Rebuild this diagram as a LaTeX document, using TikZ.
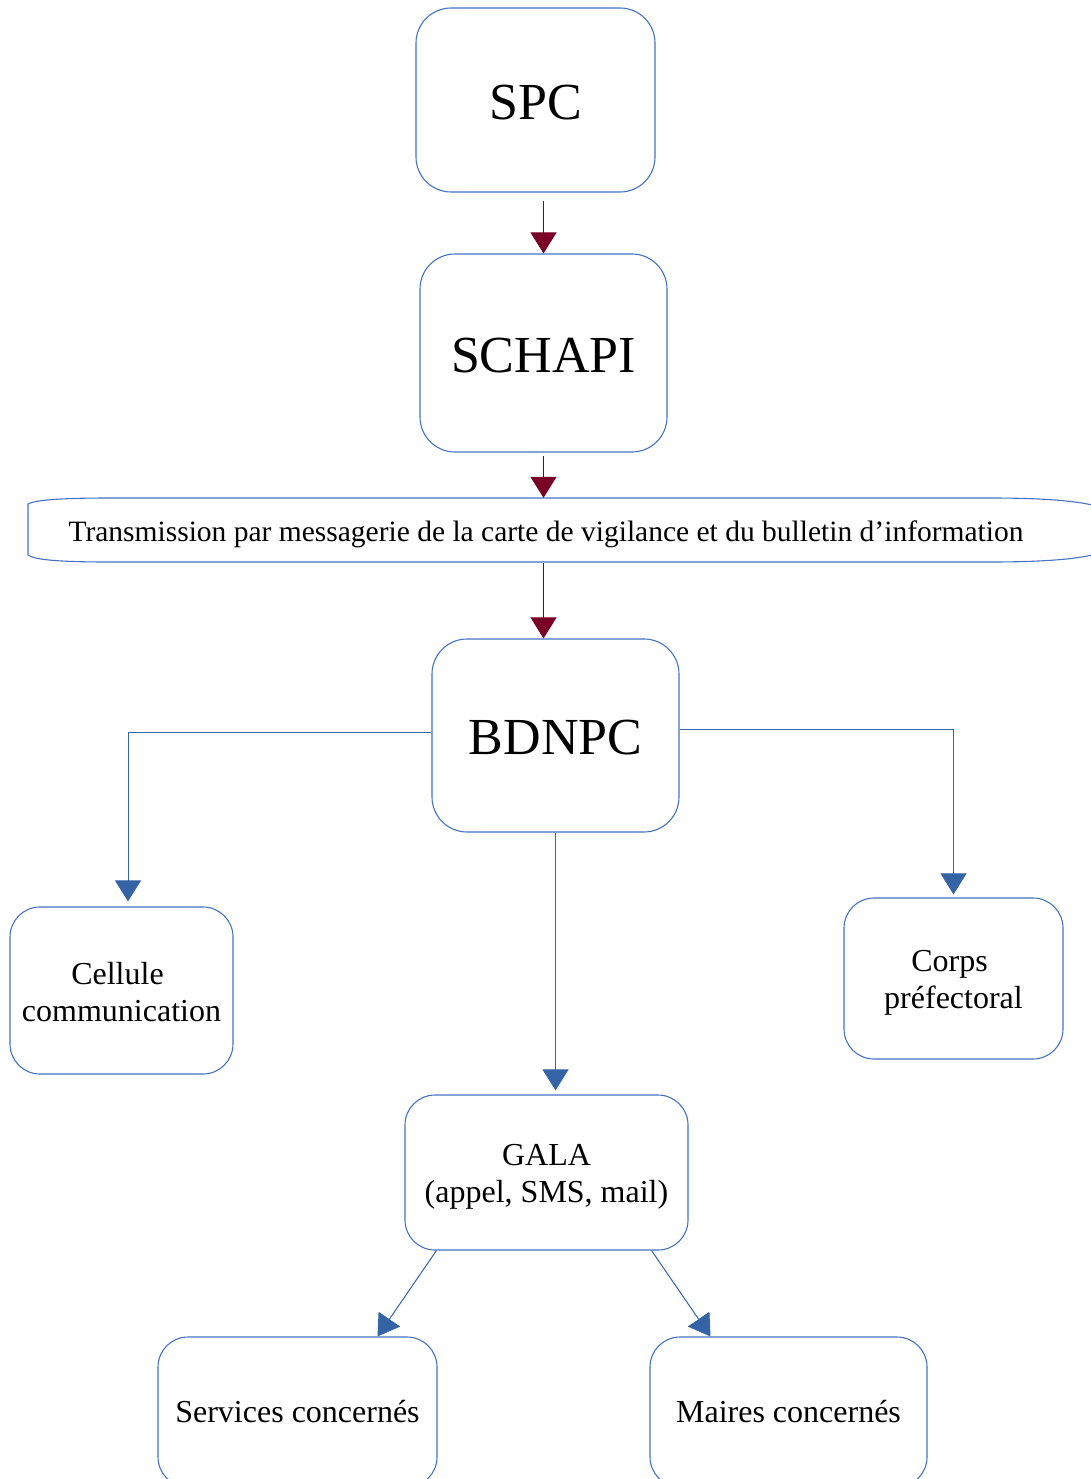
\documentclass[tikz,border=0pt]{standalone}
\usepackage{fontspec}
\setmainfont{Liberation Serif}
\usetikzlibrary{arrows.meta}
\definecolor{boxblue}{HTML}{4472C4}
\definecolor{arrblue}{HTML}{3464A6}
\definecolor{arrred}{HTML}{7A0026}
\begin{document}
\begin{tikzpicture}[x=1pt,y=-1pt,
  box/.style={draw=boxblue, line width=1.1pt, rounded corners=30pt, inner sep=0pt},
  big/.style={label={[font=\fontsize{52}{60}\selectfont, yshift=-2.5pt]center:#1}},
  small/.style={label={[font=\fontsize{32}{37}\selectfont, align=center, yshift=-4pt]center:#1}},
  smallc/.style={label={[font=\fontsize{32}{37}\selectfont, align=center, yshift=-2pt]center:#1}},
  smallone/.style={label={[font=\fontsize{32}{37}\selectfont, align=center]center:#1}},
  redarr/.style={draw=arrred, line width=1pt, -{Triangle[width=26pt,length=21pt]}},
  bluearr/.style={draw=arrblue, line width=1pt, -{Triangle[width=26pt,length=21pt]}}]
\useasboundingbox (0,0) rectangle (1091,1479);
\node[box, big=SPC, minimum width=239pt, minimum height=184pt, rounded corners=35pt] (spc) at (535.5,100) {};
\node[box, big=SCHAPI, minimum width=247pt, minimum height=198pt, rounded corners=35pt] (schapi) at (543.5,353) {};
\node[inner sep=0pt, minimum width=1036pt, minimum height=64pt,
  label={[font=\fontsize{29.5}{34}\selectfont, yshift=-4.5pt]center:Transmission par messagerie de la carte de vigilance et du bulletin d’information}] (msg) at (546,530) {};
\draw[boxblue, line width=1.1pt] (110,498) .. controls (60,498) and (35,500) .. (28,504) -- (28,555) .. controls (35,560) and (60,562) .. (110,562) -- (990,562) .. controls (1045,562) and (1080,559) .. (1100,553);
\draw[boxblue, line width=1.1pt] (110,498) -- (990,498) .. controls (1045,498) and (1080,501) .. (1100,507);
\node[box, big=BDNPC, minimum width=247pt, minimum height=193pt, rounded corners=35pt] (bdnpc) at (555.5,735.5) {};
\node[box, smallc={Cellule\kern8pt\\communication}, minimum width=223pt, minimum height=167pt] (cellule) at (121.5,990.5) {};
\node[box, small={Corps\kern8pt\\préfectoral}, minimum width=219pt, minimum height=161pt] (corps) at (953.5,978.5) {};
\node[box, small={GALA\\(appel, SMS, mail)}, minimum width=283pt, minimum height=155pt] (gala) at (546.5,1172.5) {};
\node[box, smallone={Services concernés}, minimum width=279pt, minimum height=150pt] (services) at (297.5,1412) {};
\node[box, smallone={Maires concernés}, minimum width=277pt, minimum height=150pt] (maires) at (788.5,1412) {};
\draw[redarr, shorten <=8pt] (spc.south -| schapi.north) -- (schapi.north);
\draw[redarr, shorten <=3pt] (schapi.south) -- (schapi.south |- msg.north);
\draw[redarr, shorten <=1pt] (schapi.south |- msg.south) -- (schapi.south |- bdnpc.north);
\draw[bluearr, shorten >=5pt] ([yshift=3.5pt]bdnpc.west) -| ([xshift=6.5pt]cellule.north);
\draw[bluearr, shorten >=3pt] ([yshift=6pt]bdnpc.east) -| (corps.north);
\draw[bluearr, shorten >=4pt] (bdnpc.south) -- (bdnpc.south |- gala.north);
\draw[bluearr] ([xshift=32pt]gala.south west) -- ([xshift=80pt]services.north);
\draw[bluearr] ([xshift=-37pt]gala.south east) -- ([xshift=-78pt]maires.north);
\end{tikzpicture}
\end{document}
